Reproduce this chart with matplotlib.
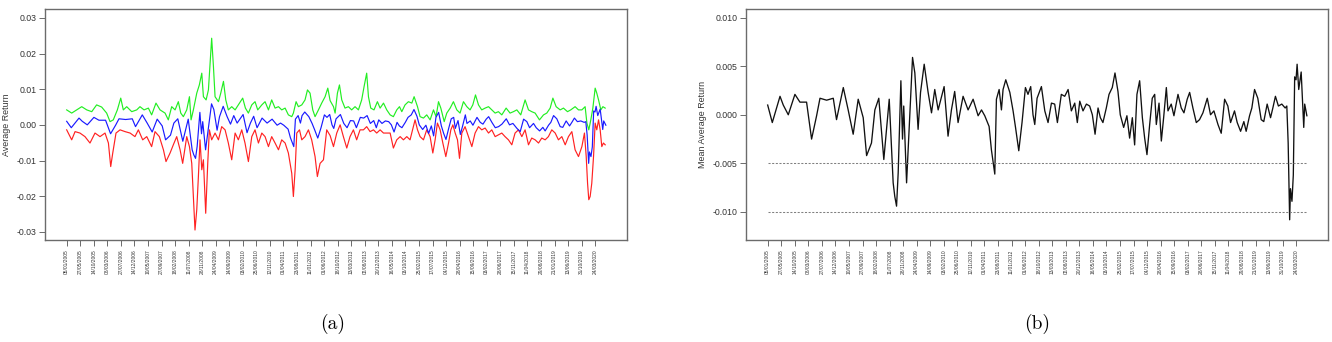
import numpy as np
import matplotlib
matplotlib.use("Agg")
import matplotlib.pyplot as plt

# ---- data -------------------------------------------------------------
# trading-day index of each labelled date on the x axis
tick_days = list(range(0, 4000, 100))
tick_dates = [
    "05/01/2005", "27/05/2005", "14/10/2005", "08/03/2006", "27/07/2006",
    "14/12/2006", "10/05/2007", "27/09/2007", "18/02/2008", "11/07/2008",
    "28/11/2008", "24/04/2009", "14/09/2009", "03/02/2010", "25/06/2010",
    "12/11/2010", "01/04/2011", "23/08/2011", "11/01/2012", "01/06/2012",
    "18/10/2012", "13/03/2013", "02/08/2013", "20/12/2013", "16/05/2014",
    "03/10/2014", "25/02/2015", "17/07/2015", "04/12/2015", "28/04/2016",
    "15/09/2016", "03/02/2017", "28/06/2017", "15/11/2017", "11/04/2018",
    "29/08/2018", "21/01/2019", "13/06/2019", "31/10/2019", "24/03/2020",
]

# mean average return (in thousandths)
mean_days = [
    0, 34, 91, 115, 152, 201, 238, 287, 324, 361, 386, 435, 484, 508, 558,
    594, 631, 668, 705, 730, 766, 791, 820, 857, 897, 926, 938, 951, 963, 975,
    983, 995, 1004, 1025, 1044, 1069, 1086, 1110, 1128, 1155, 1184, 1209,
    1233, 1258, 1302, 1331, 1356, 1380, 1405, 1442, 1479, 1516, 1553, 1578,
    1602, 1634, 1651, 1668, 1676, 1688, 1708, 1725, 1737, 1757, 1787, 1811,
    1829, 1853, 1877, 1902, 1921, 1941, 1958, 1971, 1988, 2020, 2045, 2069,
    2094, 2118, 2138, 2167, 2192, 2217, 2241, 2266, 2285, 2303, 2327, 2352,
    2376, 2396, 2416, 2438, 2455, 2474, 2499, 2519, 2543, 2563, 2585, 2602,
    2627, 2651, 2671, 2691, 2708, 2725, 2745, 2765, 2782, 2799, 2819, 2838,
    2856, 2868, 2888, 2905, 2922, 2942, 2954, 2978, 2998, 3028, 3052, 3072,
    3096, 3114, 3138, 3163, 3187, 3212, 3244, 3268, 3293, 3323, 3347, 3372,
    3396, 3416, 3445, 3465, 3490, 3514, 3531, 3556, 3573, 3593, 3617, 3642,
    3661, 3686, 3711, 3728, 3747, 3769, 3794, 3819, 3831, 3841, 3852, 3858,
    3869, 3879, 3889, 3899, 3907, 3919, 3937, 3956, 3963, 3979,
]
mean_milli = [
    1.0, -0.8, 1.9, 1.0, 0.0, 2.1, 1.3, 1.3, -2.5, -0.1, 1.7, 1.5, 1.7, -0.5,
    2.8, 0.5, -2.0, 1.6, -0.3, -4.2, -2.9, 0.5, 1.7, -4.6, 1.6, -7.0, -8.4,
    -9.4, -6.0, -0.1, 3.5, -2.5, 0.9, -7.0, -1.5, 5.9, 4.3, -1.5, 2.3, 5.2,
    2.3, 0.2, 2.6, 0.5, 2.9, -2.2, 0.5, 2.4, -0.8, 1.9, 0.5, 1.6, -0.1, 0.5,
    -0.1, -1.2, -3.6, -5.3, -6.1, 1.6, 2.6, 0.5, 2.6, 3.6, 2.3, 0.4, -1.3,
    -3.7, -0.8, 2.8, 2.1, 2.9, 0.0, -1.0, 1.7, 2.9, 0.4, -0.8, 1.2, 1.1, -0.8,
    2.1, 1.9, 2.6, 0.4, 1.2, -0.8, 1.4, 0.4, 1.1, 0.9, 0.0, -2.0, 0.7, -0.3,
    -0.8, 0.7, 2.1, 2.8, 4.3, 2.4, 0.0, -1.3, -0.1, -2.4, -0.3, -3.1, 2.1,
    3.5, -0.3, -2.4, -4.1, -1.0, 1.7, 2.1, -1.0, 1.2, -2.7, -0.3, 2.8, 0.4,
    1.1, -0.1, 2.1, 0.7, 0.2, 1.6, 2.3, 0.7, -0.8, -0.5, 0.2, 1.7, 0.0, 0.4,
    -1.0, -1.9, 1.6, 0.9, -0.8, 0.4, -0.8, -1.7, -0.7, -1.7, -0.1, 0.7, 2.6,
    1.7, -0.5, -0.7, 1.1, -0.3, 0.7, 1.9, 0.9, 1.1, 0.7, 0.9, -2.9, -10.8,
    -7.6, -8.9, -6.2, 3.9, 3.6, 5.2, 2.6, 4.4, -1.3, 1.1, -0.1,
]

# upper band (in thousandths)
upper_days = [
    0, 37, 74, 111, 148, 185, 221, 258, 295, 320, 344, 374, 399, 418, 443,
    480, 517, 541, 571, 603, 627, 659, 689, 726, 750, 775, 800, 824, 842, 861,
    886, 906, 918, 935, 960, 979, 997, 1009, 1029, 1046, 1058, 1070, 1083,
    1095, 1120, 1137, 1157, 1174, 1193, 1218, 1243, 1267, 1299, 1319, 1341,
    1366, 1390, 1410, 1440, 1464, 1489, 1513, 1538, 1563, 1587, 1612, 1636,
    1661, 1673, 1693, 1710, 1735, 1759, 1777, 1796, 1816, 1833, 1858, 1882,
    1907, 1927, 1944, 1969, 1981, 1998, 2013, 2030, 2054, 2079, 2103, 2128,
    2153, 2177, 2195, 2214, 2227, 2244, 2268, 2293, 2313, 2338, 2362, 2387,
    2411, 2436, 2456, 2473, 2497, 2522, 2547, 2564, 2589, 2608, 2633, 2657,
    2682, 2707, 2726, 2744, 2761, 2786, 2805, 2830, 2854, 2879, 2903, 2928,
    2953, 2977, 2997, 3017, 3039, 3063, 3088, 3113, 3137, 3162, 3186, 3211,
    3243, 3272, 3297, 3322, 3351, 3383, 3408, 3432, 3457, 3489, 3519, 3543,
    3568, 3588, 3612, 3642, 3666, 3696, 3720, 3752, 3777, 3802, 3826, 3839,
    3853, 3868, 3883, 3900, 3912, 3925, 3942, 3957, 3974,
]
upper_milli = [
    4.2, 3.3, 4.2, 5.1, 4.2, 3.7, 5.6, 5.0, 3.3, 0.9, 1.4, 4.2, 7.5, 4.2, 5.1,
    3.7, 4.2, 5.1, 4.2, 4.7, 2.8, 6.1, 4.2, 3.3, 1.4, 5.1, 4.2, 6.5, 3.3, 2.3,
    4.2, 7.9, 1.4, 4.2, 8.9, 11.2, 14.5, 7.9, 7.0, 9.8, 17.3, 24.3, 16.4, 7.9,
    6.5, 8.9, 12.2, 7.0, 4.2, 5.1, 4.2, 5.6, 7.5, 4.7, 3.3, 5.6, 6.5, 4.2, 5.6,
    6.5, 4.2, 7.0, 4.7, 5.1, 4.2, 4.7, 2.8, 2.3, 3.3, 6.5, 5.1, 5.6, 7.0, 9.8,
    8.9, 4.2, 2.3, 4.2, 6.1, 7.9, 10.3, 6.8, 5.1, 3.3, 8.9, 11.2, 7.0, 4.7,
    5.1, 4.2, 5.1, 4.2, 7.0, 10.8, 14.5, 7.9, 4.7, 4.2, 6.5, 4.7, 6.1, 4.2,
    2.8, 2.3, 4.2, 5.1, 3.7, 5.6, 6.5, 6.1, 7.9, 5.1, 2.3, 1.9, 2.8, 1.4, 4.2,
    2.3, 6.5, 4.7, 0.9, 3.3, 4.7, 6.5, 4.2, 3.3, 6.5, 5.1, 4.2, 5.6, 8.4, 5.6,
    4.2, 4.7, 5.1, 4.2, 3.3, 3.7, 2.8, 4.7, 3.3, 3.7, 4.2, 2.8, 7.0, 4.2, 3.7,
    3.3, 1.4, 2.8, 3.3, 4.7, 7.5, 5.1, 4.2, 4.7, 3.7, 4.2, 5.1, 4.2, 4.2, 5.1,
    0.5, -1.4, 1.4, 4.7, 10.3, 8.9, 7.0, 4.2, 5.1, 4.7,
]

# lower band (in thousandths)
lower_days = [
    0, 37, 62, 98, 135, 172, 209, 246, 283, 308, 325, 340, 364, 394, 431, 468,
    504, 529, 561, 591, 627, 652, 684, 714, 733, 763, 787, 812, 837, 856, 886,
    906, 923, 935, 947, 960, 972, 984, 997, 1009, 1026, 1041, 1053, 1070,
    1095, 1120, 1144, 1169, 1193, 1218, 1243, 1267, 1292, 1316, 1341, 1366,
    1390, 1415, 1440, 1464, 1489, 1513, 1538, 1563, 1587, 1612, 1636, 1661,
    1673, 1686, 1698, 1718, 1735, 1759, 1784, 1808, 1833, 1850, 1870, 1895,
    1919, 1944, 1969, 1993, 2018, 2042, 2067, 2091, 2116, 2140, 2165, 2190,
    2214, 2239, 2264, 2288, 2313, 2338, 2362, 2387, 2411, 2436, 2461, 2485,
    2510, 2534, 2559, 2571, 2589, 2608, 2633, 2657, 2682, 2702, 2719, 2736,
    2756, 2776, 2798, 2818, 2835, 2850, 2867, 2884, 2899, 2916, 2940, 2965,
    2990, 3014, 3039, 3063, 3088, 3113, 3137, 3162, 3186, 3211, 3235, 3260,
    3285, 3309, 3334, 3359, 3383, 3408, 3432, 3457, 3482, 3506, 3531, 3555,
    3580, 3605, 3629, 3654, 3679, 3703, 3728, 3752, 3777, 3802, 3821, 3834,
    3844, 3853, 3863, 3875, 3888, 3900, 3912, 3925, 3937, 3949, 3961, 3974,
]
lower_milli = [
    -1.4, -4.2, -1.9, -2.3, -3.3, -5.1, -2.3, -3.3, -2.3, -5.1, -11.7, -7.9,
    -2.3, -1.4, -1.9, -2.3, -3.3, -1.4, -4.2, -3.3, -6.1, -1.9, -3.3, -7.0,
    -10.3, -7.9, -5.6, -3.3, -7.0, -10.8, -3.3, -6.1, -10.8, -20.1, -29.5,
    -23.8, -14.5, -4.2, -12.6, -9.8, -24.8, -10.8, -1.4, -4.2, -2.3, -4.2,
    -0.5, -1.4, -5.1, -9.8, -2.3, -4.2, -1.4, -5.1, -10.3, -3.3, -1.4, -5.1,
    -2.3, -3.3, -6.1, -3.3, -5.1, -7.0, -4.2, -5.1, -7.9, -13.6, -20.1, -12.6,
    -2.3, -1.4, -4.2, -3.3, -1.4, -4.2, -8.9, -14.5, -10.8, -9.8, -1.4, -3.0,
    -6.1, -2.3, 0.0, -3.3, -6.5, -3.3, -1.4, -4.2, -1.4, -1.4, -0.5, -1.9,
    -1.4, -2.3, -1.4, -2.3, -2.3, -2.3, -6.5, -4.2, -3.3, -4.2, -3.3, -4.2,
    -0.5, 1.4, -1.4, -3.3, -4.2, -1.4, -3.3, -7.9, -4.2, 0.5, -1.4, -5.1,
    -8.9, -5.1, -1.4, 0.0, -2.3, -4.2, -9.4, -2.3, -0.5, -3.3, -6.1, -2.3,
    -0.5, -1.4, -0.9, -2.3, -1.4, -3.3, -2.8, -2.3, -3.3, -4.2, -5.6, -2.3,
    -1.4, -3.3, -1.4, -5.6, -3.7, -4.2, -5.1, -3.7, -4.2, -3.3, -1.4, -2.3,
    -4.2, -3.3, -5.6, -3.3, -1.9, -7.0, -8.9, -6.1, -2.3, -8.9, -16.4, -21.0,
    -20.1, -16.4, -8.9, 0.5, -1.4, 1.4, -1.4, -6.1, -5.1, -5.6,
]

# ---- figure -----------------------------------------------------------
plt.rcParams["font.family"] = ["Liberation Sans", "DejaVu Sans"]

FRAME = "#6b6b6b"
TEXT = "#333333"

fig = plt.figure(figsize=(13.32, 3.42), dpi=100)
ax_a = fig.add_axes([0.03378, 0.29825, 0.43694, 0.67544])
ax_b = fig.add_axes([0.56006, 0.29825, 0.43694, 0.67544])


def style_axes(ax, yticks, ylabels, ylabel):
    for sp in ax.spines.values():
        sp.set_color(FRAME)
        sp.set_linewidth(1.0)
    ax.set_xlim(-160, 4135)
    ax.set_xticks(tick_days)
    ax.set_xticklabels(tick_dates, rotation=90, fontsize=3.5, color=TEXT)
    ax.set_yticks(yticks)
    ax.set_yticklabels(ylabels, fontsize=6.3, color=TEXT)
    ax.tick_params(axis="both", direction="out", length=4, width=0.7,
                   color=FRAME, pad=2)
    ax.tick_params(axis="x", pad=3)
    ax.set_ylabel(ylabel, fontsize=6.4, color=TEXT, labelpad=4)


upper = np.asarray(upper_milli) * 1e-3
lower = np.asarray(lower_milli) * 1e-3
mean = np.asarray(mean_milli) * 1e-3

# (a) average return with its upper and lower bands
ax_a.plot(upper_days, upper, color="#22ee22", lw=0.85)
ax_a.plot(lower_days, lower, color="#ff2222", lw=0.85)
ax_a.plot(mean_days, mean, color="#1a1aff", lw=0.85)
ax_a.set_ylim(-0.0323, 0.0325)
a_ticks = [0.03, 0.02, 0.01, 0.0, -0.01, -0.02, -0.03]
style_axes(ax_a, a_ticks, ["%.2f" % t for t in a_ticks], "Average Return")

# (b) mean average return with reference levels
ax_b.plot(mean_days, mean, color="#111111", lw=0.95)
for level in (-0.005, -0.010):
    ax_b.hlines(level, mean_days[0], mean_days[-1], colors="#808080",
                linestyles=(0, (2.0, 1.5)), lw=0.75)
ax_b.set_ylim(-0.01288, 0.01088)
b_ticks = [0.010, 0.005, 0.0, -0.005, -0.010]
style_axes(ax_b, b_ticks, ["%.3f" % t for t in b_ticks], "Mean Average Return")

# sub-figure captions
fig.text(333 / 1332, 1 - 324 / 342, "(a)", family="cmr10", fontsize=14,
         ha="center", va="center")
fig.text(1037 / 1332, 1 - 324 / 342, "(b)", family="cmr10", fontsize=14,
         ha="center", va="center")

fig.savefig("out.png", dpi=100)
